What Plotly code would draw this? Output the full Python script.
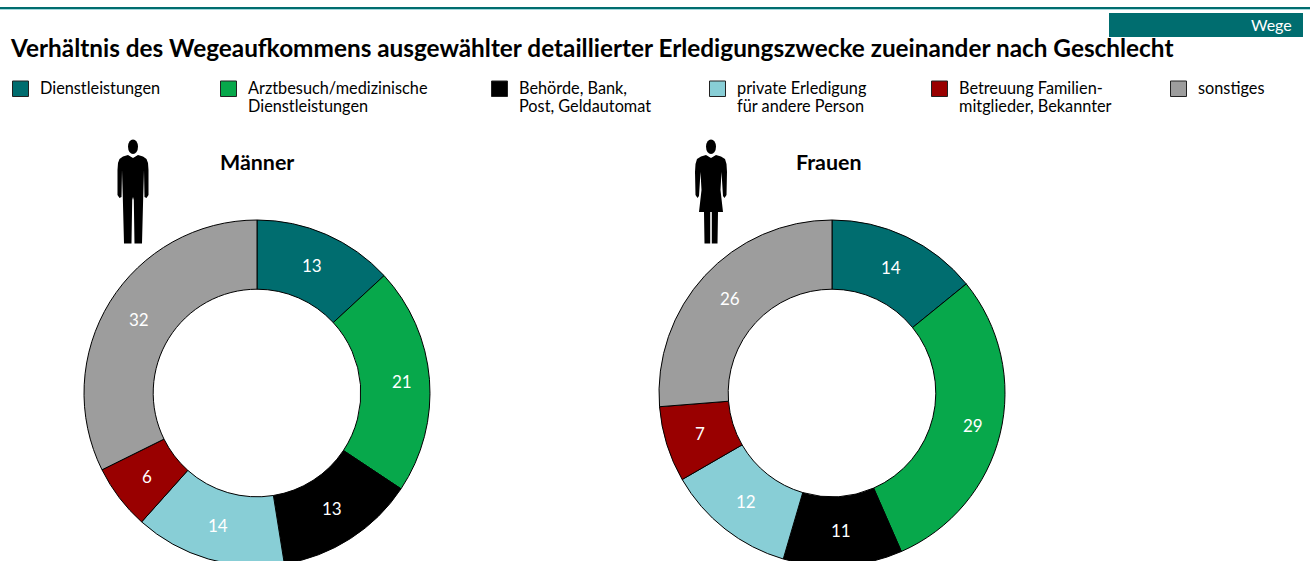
import math
import plotly.graph_objects as go

W, H = 1310, 600
FONT = "Lato"

categories = ["Dienstleistungen", "Arztbesuch/medizinische<br>Dienstleistungen", "Behörde, Bank,<br>Post, Geldautomat",
              "private Erledigung<br>für andere Person", "Betreuung Familien-<br>mitglieder, Bekannter", "sonstiges"]
colors = ["#006d6f", "#07a84b", "#000000", "#88ced6", "#990000", "#9d9d9d"]
men = [13, 21, 13, 14, 6, 32]
women = [14, 29, 11, 12, 7, 26]
legend_x = [12, 220, 491, 709, 931, 1170]

R, CY, HOLE = 173, 393, 0.6

def px(x): return x / W
def py(y): return 1 - y / H

def pie(vals, name, cx):
    return go.Pie(values=vals, labels=[c.replace("<br>", " ") for c in categories], name=name, sort=False, direction="clockwise",
                  rotation=0, hole=HOLE, textinfo="none", showlegend=False, automargin=False,
                  marker=dict(colors=colors, line=dict(color="black", width=1)),
                  domain=dict(x=[px(cx - R), px(cx + R)], y=[py(CY + R), py(CY - R)]))

fig = go.Figure([pie(men, "Männer", 257), pie(women, "Frauen", 832)])

shapes, ann = [], []
def rect(x0, y0, x1, y1, fill, line=None):
    shapes.append(dict(type="rect", xref="paper", yref="paper", x0=px(x0), x1=px(x1), y0=py(y0), y1=py(y1),
                       fillcolor=fill, line=dict(color=line or fill, width=1 if line else 0), layer="above"))
def text(x, y, s, size, color="black", bold=False, anchor="left"):
    ann.append(dict(xref="paper", yref="paper", x=px(x), y=py(y), text=f"<b>{s}</b>" if bold else s, showarrow=False,
                    xanchor=anchor, yanchor="middle", align="left", font=dict(family=FONT, size=size, color=color)))

# value labels: centred in each ring segment, taken from the values
def value_labels(vals, cx):
    total = sum(vals)
    start = 0
    mid_r = R * (1 + HOLE) / 2
    for i, v in enumerate(vals):
        a = 2 * math.pi * (start + v / 2) / total
        nudge = 7 if i == 1 else 0   # the green segment's label sits further out in the reference
        text(cx + mid_r * math.sin(a) + nudge, CY - mid_r * math.cos(a) - 0.5, str(v), 17, "white", anchor="center")
        start += v
value_labels(men, 257)
value_labels(women, 832)

# header rule and tag
rect(0, 7, 1310, 9, "#006d6f")
rect(0, 9, 1310, 10, "#a5d8dc")
rect(1109, 13, 1303, 37, "#006d6f")
text(1294, 25, "Wege", 16, "white", anchor="right")
text(8, 48, "Verhältnis des Wegeaufkommens ausgewählter detaillierter Erledigungszwecke zueinander nach Geschlecht", 24.35, bold=True)

# legend
for x, c, col in zip(legend_x, categories, colors):
    rect(x + 0.5, 81, x + 16.5, 96.5, col, "#222222")
    for j, line in enumerate(c.split("<br>")):
        text(x + 26, 87 + 19 * j, line, 16.3)

text(218, 162, "Männer", 21.4, bold=True)
text(794, 162, "Frauen", 21.4, bold=True)

# pictograms
def figure_path(cx, half):
    right = [(cx + dx, y) for dx, y in half]
    left = [(cx - dx, y) for dx, y in reversed(half)]
    pts = right + left
    return "M " + " L ".join(f"{px(x):.5f},{py(y):.5f}" for x, y in pts) + " Z"
man = [(0, 158), (5, 155), (10, 156.5), (13.5, 159), (15, 163), (15.5, 170), (15.5, 195), (13.5, 198), (11.5, 197),
       (11, 170), (10.2, 197), (9, 243.5), (1.5, 243.5), (0.8, 200), (0, 197)]
woman = [(0, 158), (5, 155), (10, 156.5), (14, 159), (15.5, 164), (16, 172), (15.5, 195), (13.5, 198), (12, 196),
         (10.5, 172), (9.5, 190), (12, 212), (7, 212), (6.5, 243.5), (0.8, 243.5), (0.8, 212), (0, 212)]
for cx, half in [(133, man), (711, woman)]:
    shapes.append(dict(type="path", xref="paper", yref="paper", path=figure_path(cx, half), fillcolor="black", line=dict(width=0)))
    shapes.append(dict(type="circle", xref="paper", yref="paper", x0=px(cx - 5), x1=px(cx + 5), y0=py(154), y1=py(139.5),
                       fillcolor="black", line=dict(width=0)))

fig.update_layout(width=W, height=H, margin=dict(l=0, r=0, t=0, b=0), paper_bgcolor="white",
                  shapes=shapes, annotations=ann, font=dict(family=FONT))
fig.write_html("out.html", config=dict(displayModeBar=False),
               post_script="document.body.style.margin='0';document.documentElement.style.overflow='hidden';document.body.style.overflow='hidden';")
